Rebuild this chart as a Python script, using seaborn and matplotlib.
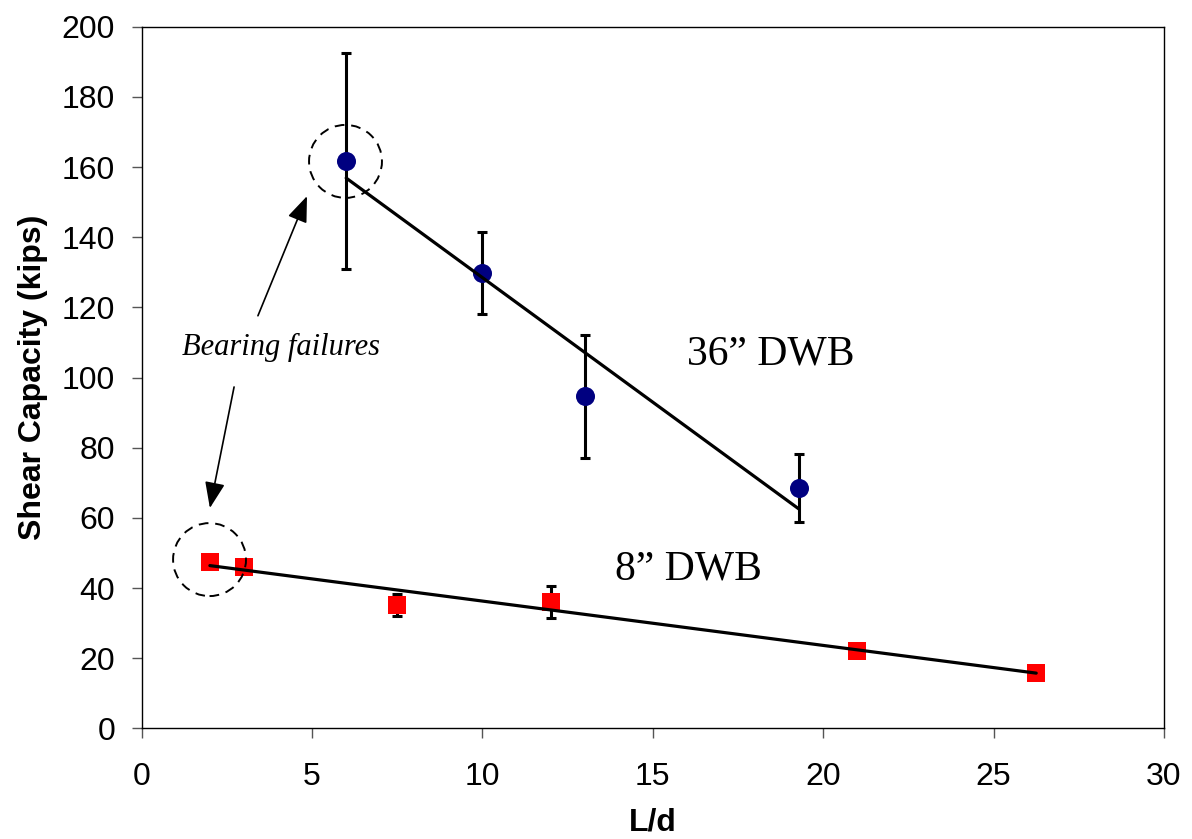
import numpy as np
import matplotlib
matplotlib.use("Agg")
import matplotlib.pyplot as plt
from matplotlib.patches import Ellipse
import seaborn as sns

# ---- data ----
x36 = [6, 10, 13, 19.3]
y36 = [161.8, 129.9, 94.6, 68.6]
e36 = [30.8, 11.7, 17.6, 9.7]

x8 = [2, 3, 7.5, 12, 21, 26.25]
y8 = [47.4, 46.1, 35.2, 36.1, 22.1, 15.9]
e8 = [0, 0, 3.1, 4.6, 0, 0]

xticks = [0, 5, 10, 15, 20, 25, 30]
yticks = [0, 20, 40, 60, 80, 100, 120, 140, 160, 180, 200]

sns.set_style("ticks")
plt.rcParams["font.family"] = ["Liberation Sans", "DejaVu Sans"]
plt.rcParams["text.color"] = "black"
plt.rcParams["axes.labelcolor"] = "black"
plt.rcParams["xtick.color"] = "black"
plt.rcParams["ytick.color"] = "black"

fig = plt.figure(figsize=(11.92, 8.39), dpi=100)
ax = fig.add_axes([0.1189, 0.1319, 0.9765 - 0.1189, 0.9682 - 0.1319])

# error bars
ax.errorbar(x36, y36, yerr=e36, fmt="none", ecolor="black", elinewidth=2.2,
            capsize=3.6, capthick=2.2, zorder=2)
ax.errorbar(x8, y8, yerr=e8, fmt="none", ecolor="black", elinewidth=2.2,
            capsize=3.6, capthick=2.2, zorder=2)

# markers
sns.scatterplot(x=x36, y=y36, marker="o", s=13.7**2, color="#000080",
                linewidth=0, ax=ax, zorder=3)
sns.scatterplot(x=x8, y=y8, marker="s", s=13.5**2, color="#ff0000",
                linewidth=0, ax=ax, zorder=3)

# linear trend lines
sns.regplot(x=x36, y=y36, scatter=False, ci=None, truncate=True, ax=ax,
            line_kws=dict(color="black", lw=2.3, zorder=4))
sns.regplot(x=x8, y=y8, scatter=False, ci=None, truncate=True, ax=ax,
            line_kws=dict(color="black", lw=2.3, zorder=4))

ax.set_xlim(0, 30)
ax.set_ylim(0, 200)
ax.set_xticks(xticks)
ax.set_yticks(yticks)

for s in ax.spines.values():
    s.set_visible(True)
    s.set_color("black")
    s.set_linewidth(1.0)

ax.tick_params(axis="both", direction="out", length=7.2, width=1.0,
               color="#555555", labelsize=23, labelcolor="black")
ax.tick_params(axis="x", pad=17)
ax.tick_params(axis="y", pad=12)

ax.set_xlabel("L/d", fontsize=23, fontweight="bold", labelpad=11, color="black")
ax.set_ylabel("Shear Capacity (kips)", fontsize=23, fontweight="bold",
              labelpad=10, color="black")

# dashed circles around bearing failures
ax.add_patch(Ellipse((5.98, 161.6), 2.14, 20.8, fill=False, ls=(0, (5, 3.5)),
                     lw=1.4, ec="black", zorder=5))
ax.add_patch(Ellipse((1.99, 48.1), 2.14, 20.8, fill=False, ls=(0, (5, 3.5)),
                     lw=1.4, ec="black", zorder=5))

serif = ["Liberation Serif", "DejaVu Serif"]
ax.text(1.18, 106.4, "Bearing failures", family=serif, style="italic",
        fontsize=22, ha="left", va="baseline", color="black")
ax.text(15.99, 103.6, "36\u201d DWB", family=serif, fontsize=30,
        ha="left", va="baseline", color="black")
ax.text(13.88, 42.3, "8\u201d DWB", family=serif, fontsize=30,
        ha="left", va="baseline", color="black")

arrow = dict(arrowstyle="-|>,head_length=1.6,head_width=0.62", color="black",
             lw=1.2, shrinkA=0, shrinkB=0)
ax.annotate("", xy=(4.85, 151.7), xytext=(3.41, 117.6), arrowprops=arrow)
ax.annotate("", xy=(2.0, 62.8), xytext=(2.71, 97.3), arrowprops=arrow)

fig.savefig("out.png", dpi=100)
